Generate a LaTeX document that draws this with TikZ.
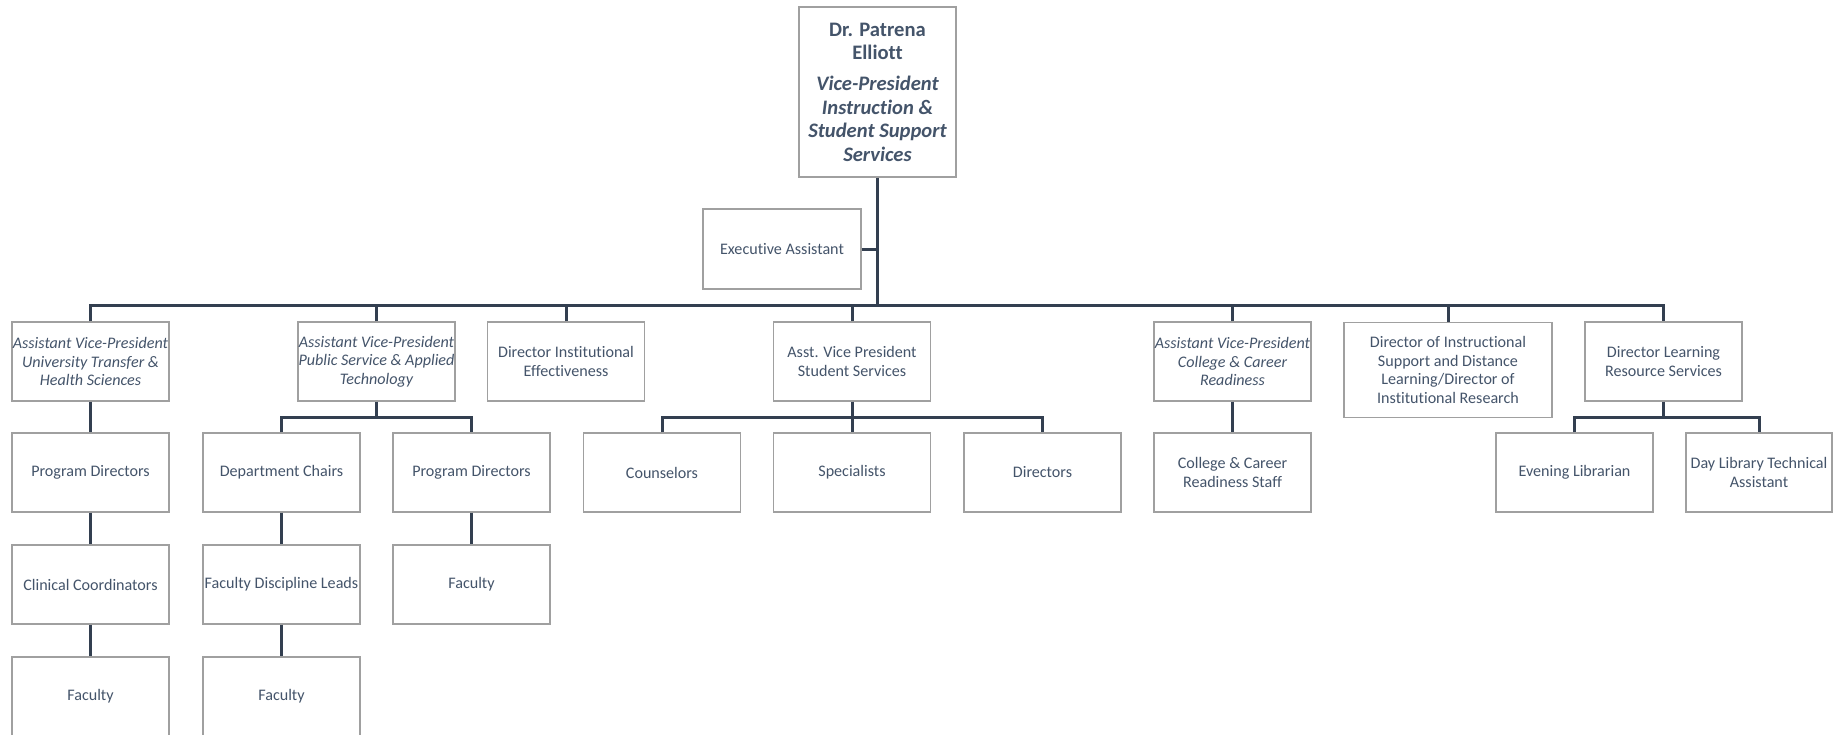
\documentclass[tikz,border=0pt]{standalone}
\usepackage{fontspec}
\setmainfont{Carlito}[Ligatures={NoCommon}]
\definecolor{txt}{HTML}{44546A}
\definecolor{linec}{HTML}{333F50}
\definecolor{boxgray}{HTML}{A0A0A0}
\begin{document}
\begin{tikzpicture}[x=1pt,y=-1pt,
  box/.style={draw=boxgray, line width=1.3pt, fill=white, text=txt, align=center,
    minimum width=157pt, minimum height=79pt, inner sep=0pt,
    font=\fontsize{16.1}{18.6}\selectfont},
  ibox/.style={box, font=\fontsize{16.1}{18.6}\selectfont\itshape},
  conn/.style={draw=linec, line width=3pt, line join=miter}]
\fill[white] (0,0) rectangle (1847,734);
\path[use as bounding box] (0,0) rectangle (1847,734);

% top
\node[box, minimum width=157pt, minimum height=170pt, font=\fontsize{20.6}{23.4}\selectfont] (top) at (877.5,92)
  {\bfseries Dr. Patrena\\\bfseries Elliott\\[8pt]\bfseries\itshape Vice-President\\\bfseries\itshape Instruction \&\\\bfseries\itshape Student Support\\\bfseries\itshape Services};
\node[box, minimum width=158pt, minimum height=80pt] (exec) at (782,249) {Executive Assistant};

% level 1
\node[ibox] (a1) at (90.5,361.5) {Assistant Vice-President\\University Transfer \&\\Health Sciences};
\node[ibox] (a2) at (376.5,361.5) {Assistant Vice-President\\Public Service \& Applied\\Technology};
\node[box] (a3) at (566,361.5) {Director Institutional\\Effectiveness};
\node[box] (a4) at (852,361.5) {Asst. Vice President\\Student Services};
\node[ibox] (a5) at (1232.5,361.5) {Assistant Vice-President\\College \& Career\\Readiness};
\node[box, minimum width=208pt, minimum height=95pt] (a6) at (1448,370) {Director of Instructional\\Support and Distance\\Learning/Director of\\Institutional Research};
\node[box] (a7) at (1663.5,361.5) {Director Learning\\Resource Services};

% level 2
\node[box] (b1) at (90.5,472.5) {Program Directors};
\node[box] (b2) at (281.5,472.5) {Department Chairs};
\node[box] (b3) at (471.5,472.5) {Program Directors};
\node[box] (b4) at (662,472.5) {Counselors};
\node[box] (b5) at (852,472.5) {Specialists};
\node[box] (b6) at (1042.5,472.5) {Directors};
\node[box] (b7) at (1232.5,472.5) {College \& Career\\Readiness Staff};
\node[box] (b8) at (1574.5,472.5) {Evening Librarian};
\node[box, minimum width=146pt] (b9) at (1759,472.5) {Day Library Technical\\Assistant};

% level 3
\node[box] (c1) at (90.5,584.5) {Clinical Coordinators};
\node[box] (c2) at (281.5,584.5) {Faculty Discipline Leads};
\node[box] (c3) at (471.5,584.5) {Faculty};

% level 4
\node[box] (d1) at (90.5,696.5) {Faculty};
\node[box] (d2) at (281.5,696.5) {Faculty};

% coordinates for buses
\coordinate (bus) at (877.5,305);
\coordinate (br2) at (376.5,417);
\coordinate (br4) at (852,417);
\coordinate (br7) at (1663.5,417);

% connectors
\draw[conn] (top.south) -- (bus);
\draw[conn] (exec.east) -- (exec.east -| top.south);
\draw[conn] (a1.north) |- (bus) -| (a7.north);
\foreach \n in {a2,a3,a4,a5,a6} \draw[conn] (\n.north) -- (\n.north |- bus);

\draw[conn] (a1.south) -- (b1.north);
\draw[conn] (b1.south) -- (c1.north);
\draw[conn] (c1.south) -- (d1.north);

\draw[conn] (a2.south) -- (br2);
\draw[conn] (b2.north) |- (br2) -| (b3.north);
\draw[conn] (b2.south) -- (c2.north);
\draw[conn] (c2.south) -- (d2.north);
\draw[conn] (b3.south) -- (c3.north);

\draw[conn] (a4.south) -- (b5.north);
\draw[conn] (b4.north) |- (br4) -| (b6.north);

\draw[conn] (a5.south) -- (b7.north);

\draw[conn] (a7.south) -- (br7);
\draw[conn] (b8.north) |- (br7) -| (b9.north);
\end{tikzpicture}
\end{document}
